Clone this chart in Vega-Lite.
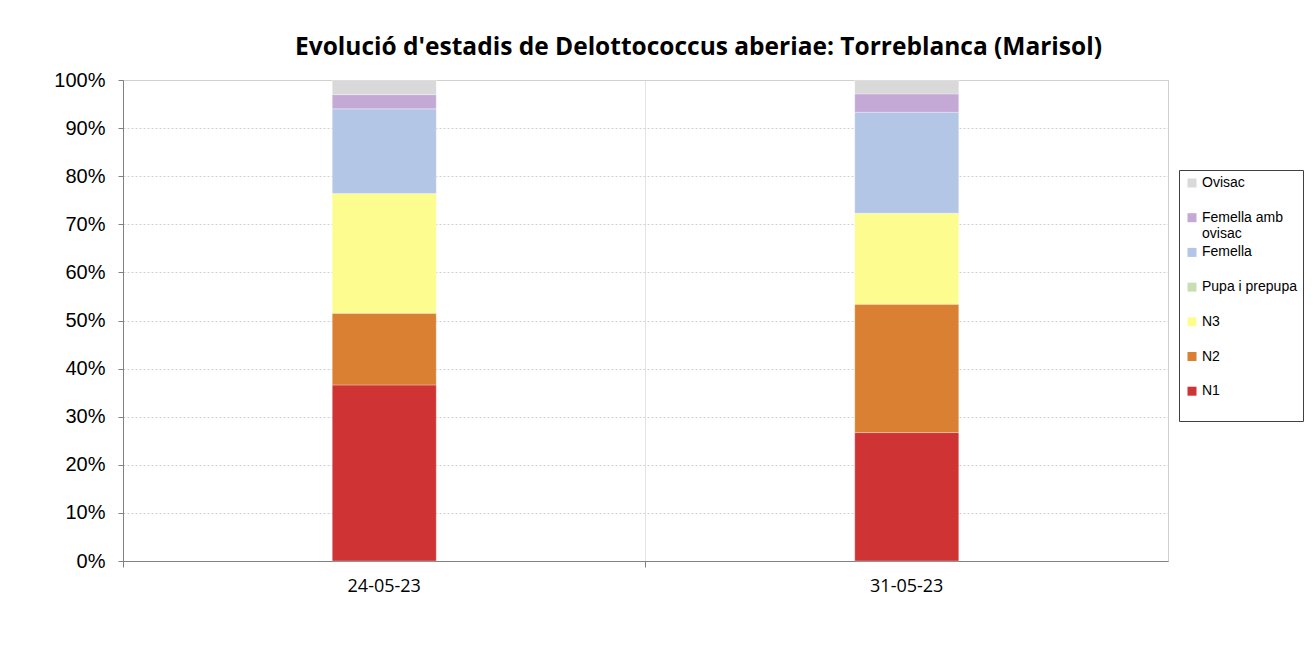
{
  "$schema": "https://vega.github.io/schema/vega-lite/v6.json",
  "width": 1045,
  "height": 481,
  "autosize": {"type": "none"},
  "padding": {"left": 123, "top": 80, "right": 145, "bottom": 103},
  "background": "white",
  "title": {
    "text": "Evolució d'estadis de Delottococcus aberiae: Torreblanca (Marisol)",
    "font": "Open Sans",
    "fontSize": 24.5,
    "fontWeight": "bold",
    "color": "black",
    "anchor": "middle",
    "dx": 53,
    "offset": 10
  },
  "data": {
    "values": [
      {"data": "24-05-23", "estadi": "N1", "ordre": 1, "percentatge": 36.6},
      {"data": "24-05-23", "estadi": "N2", "ordre": 2, "percentatge": 14.9},
      {"data": "24-05-23", "estadi": "N3", "ordre": 3, "percentatge": 24.9},
      {"data": "24-05-23", "estadi": "Pupa i prepupa", "ordre": 4, "percentatge": 0},
      {"data": "24-05-23", "estadi": "Femella", "ordre": 5, "percentatge": 17.6},
      {"data": "24-05-23", "estadi": "Femella amb ovisac", "ordre": 6, "percentatge": 2.95},
      {"data": "24-05-23", "estadi": "Ovisac", "ordre": 7, "percentatge": 3.05},
      {"data": "31-05-23", "estadi": "N1", "ordre": 1, "percentatge": 26.7},
      {"data": "31-05-23", "estadi": "N2", "ordre": 2, "percentatge": 26.7},
      {"data": "31-05-23", "estadi": "N3", "ordre": 3, "percentatge": 18.9},
      {"data": "31-05-23", "estadi": "Pupa i prepupa", "ordre": 4, "percentatge": 0},
      {"data": "31-05-23", "estadi": "Femella", "ordre": 5, "percentatge": 21.0},
      {"data": "31-05-23", "estadi": "Femella amb ovisac", "ordre": 6, "percentatge": 3.8},
      {"data": "31-05-23", "estadi": "Ovisac", "ordre": 7, "percentatge": 2.9}
    ]
  },
  "mark": {"type": "bar", "size": 104, "stroke": "white", "strokeWidth": 0.5, "strokeOpacity": 0.6},
  "encoding": {
    "x": {
      "field": "data",
      "type": "nominal",
      "title": null,
      "sort": ["24-05-23", "31-05-23"],
      "scale": {"paddingInner": 0, "paddingOuter": 0},
      "axis": {
        "bandPosition": 0,
        "labelAngle": 0,
        "labelFont": "Open Sans",
        "labelFontSize": 18,
        "labelColor": "black",
        "labelPadding": 10,
        "tickSize": 6,
        "tickColor": "#808080",
        "domainColor": "#808080",
        "grid": true,
        "gridColor": "#e3e3e3",
        "gridWidth": 1
      }
    },
    "y": {
      "field": "percentatge",
      "type": "quantitative",
      "stack": "normalize",
      "title": null,
      "scale": {"domain": [0, 1]},
      "axis": {
        "format": ".0%",
        "values": [0, 0.1, 0.2, 0.3, 0.4, 0.5, 0.6, 0.7, 0.8, 0.9, 1],
        "labelFont": "Liberation Sans",
        "labelFontSize": 20,
        "labelColor": "black",
        "labelPadding": 13,
        "tickSize": 5,
        "tickColor": "#808080",
        "domainColor": "#808080",
        "grid": true,
        "gridColor": "#d0d0d0",
        "gridDash": [2, 2],
        "gridWidth": 1
      }
    },
    "color": {
      "field": "estadi",
      "type": "nominal",
      "title": null,
      "scale": {
        "domain": ["Ovisac", "Femella amb ovisac", "Femella", "Pupa i prepupa", "N3", "N2", "N1"],
        "range": ["#d9d9d9", "#c4a8d6", "#b3c6e6", "#c6e0b4", "#fcfc8f", "#da8033", "#cf3333"]
      },
      "legend": {
        "orient": "none",
        "legendX": 1056,
        "legendY": 90,
        "direction": "vertical",
        "symbolType": "square",
        "symbolSize": 81,
        "symbolStrokeWidth": 0,
        "labelFont": "Liberation Sans",
        "labelFontSize": 14,
        "labelLineHeight": 17,
        "labelColor": "black",
        "labelOffset": 3,
        "labelLimit": 200,
        "labelBaseline": "middle",
        "rowPadding": 4.7,
        "padding": 6,
        "strokeColor": "#404040",
        "labelExpr": "datum.label == 'Femella amb ovisac' ? ['Femella amb', 'ovisac'] : [datum.label, '']"
      }
    },
    "order": {"field": "ordre", "type": "quantitative", "sort": "ascending"}
  },
  "config": {
    "view": {"stroke": "#d0d0d0", "strokeWidth": 1}
  }
}
